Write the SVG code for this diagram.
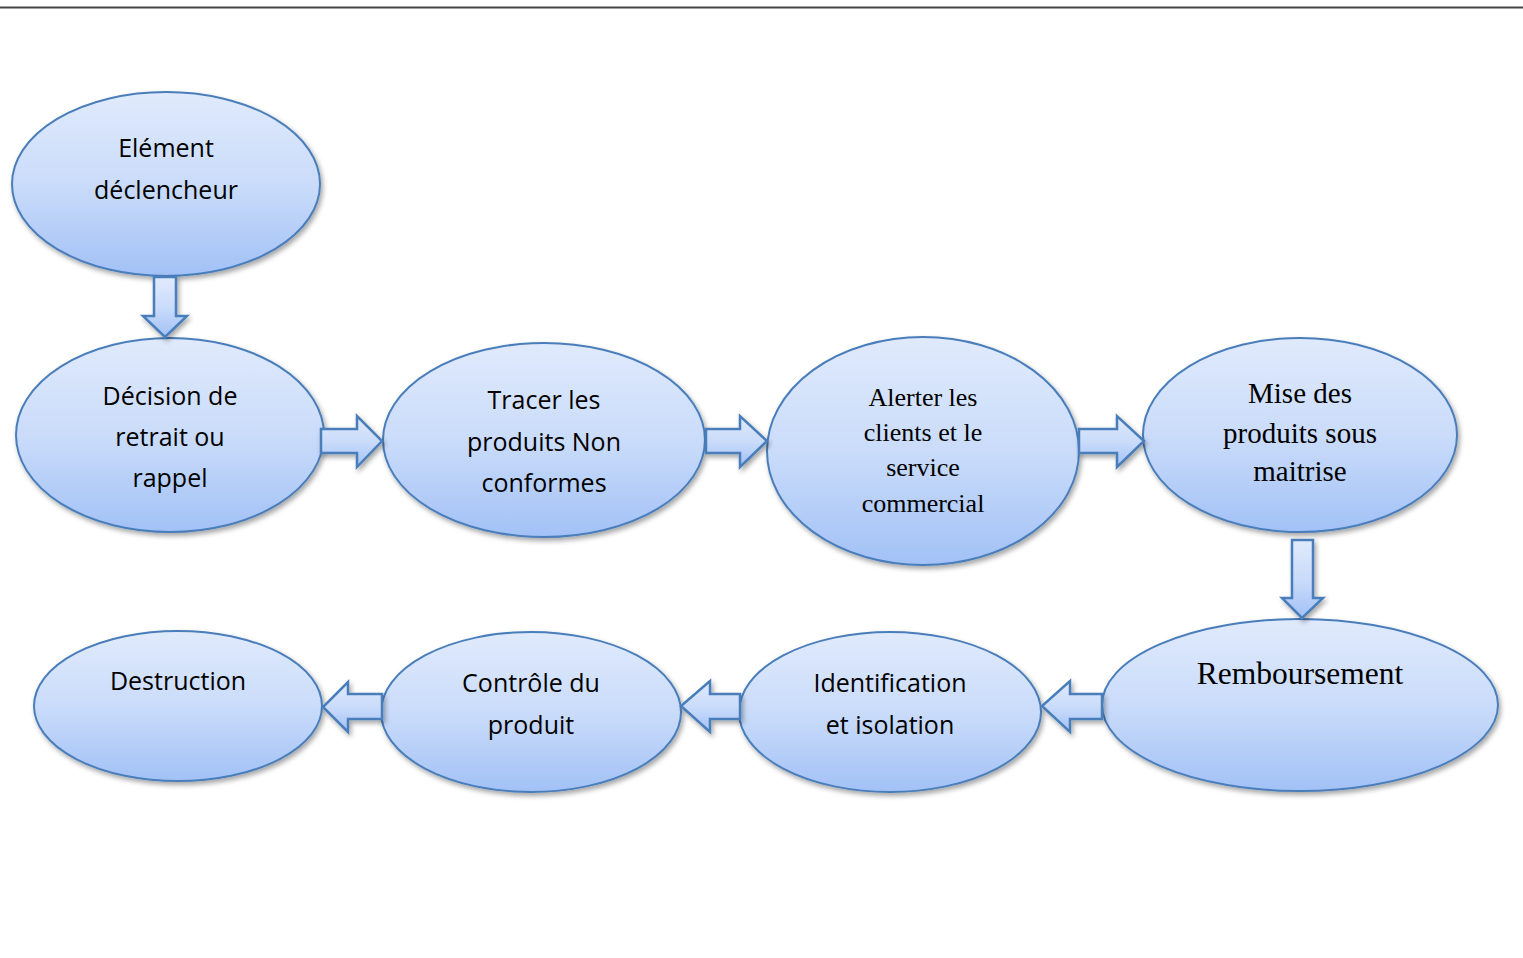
<svg xmlns="http://www.w3.org/2000/svg" width="1523" height="958" viewBox="0 0 1523 958">
<defs>
<linearGradient id="g" x1="0" y1="0" x2="0" y2="1">
<stop offset="0" stop-color="#e0eafc"/>
<stop offset="0.5" stop-color="#cadcfa"/>
<stop offset="1" stop-color="#a2c1f6"/>
</linearGradient>
<filter id="sh" x="-10%" y="-10%" width="125%" height="130%">
<feDropShadow dx="2" dy="3" stdDeviation="2.5" flood-color="#000" flood-opacity="0.35"/>
</filter>
<style>
.n{fill:url(#g);stroke:#4a7ebb;stroke-width:2;filter:url(#sh)}
.a{fill:url(#g);stroke:#4a7ebb;stroke-width:2.5;stroke-linejoin:miter;filter:url(#sh)}
.s{font-family:"Open Sans","Noto Sans",sans-serif;font-size:25px;fill:#000;text-anchor:middle}
.t{font-family:"Liberation Serif","Times New Roman",serif;fill:#000;text-anchor:middle}
</style>
</defs>
<rect width="1523" height="958" fill="#fff"/>
<line x1="0" y1="7.5" x2="1523" y2="7.5" stroke="#444" stroke-width="1.8"/>

<g id="n1"><ellipse class="n" cx="166" cy="184" rx="154" ry="92"/>
<text class="s" x="166" y="157">Elément</text><text class="s" x="166" y="199">déclencheur</text></g>

<g id="n2"><ellipse class="n" cx="170" cy="435" rx="154" ry="97"/>
<text class="s" x="170" y="405">Décision de</text><text class="s" x="170" y="446">retrait ou</text><text class="s" x="170" y="487">rappel</text></g>

<g id="n3"><ellipse class="n" cx="544" cy="440" rx="161" ry="97"/>
<text class="s" x="544" y="409">Tracer les</text><text class="s" x="544" y="451">produits Non</text><text class="s" x="544" y="492">conformes</text></g>

<g id="n4"><ellipse class="n" cx="923" cy="451" rx="156" ry="114"/>
<g class="t" font-size="26"><text x="923" y="406">Alerter les</text><text x="923" y="441">clients et le</text><text x="923" y="476">service</text><text x="923" y="512">commercial</text></g></g>

<g id="n5"><ellipse class="n" cx="1300" cy="435" rx="157" ry="97"/>
<g class="t" font-size="29"><text x="1300" y="403">Mise des</text><text x="1300" y="443">produits sous</text><text x="1300" y="481">maitrise</text></g></g>

<g id="n6"><ellipse class="n" cx="1300" cy="705" rx="198" ry="86"/>
<text class="t" font-size="31.5" x="1300" y="684">Remboursement</text></g>

<g id="n7"><ellipse class="n" cx="890" cy="712" rx="151" ry="80"/>
<text class="s" x="890" y="692">Identification</text><text class="s" x="890" y="734">et isolation</text></g>

<g id="n8"><ellipse class="n" cx="531" cy="712" rx="150" ry="80"/>
<text class="s" x="531" y="692">Contrôle du</text><text class="s" x="531" y="734">produit</text></g>

<g id="n9"><ellipse class="n" cx="178" cy="706" rx="144" ry="75"/>
<text class="s" x="178" y="690">Destruction</text></g>

<g id="connectors">
<polygon class="a" points="154,277 176,277 176,316 187,316 165,337 143,316 154,316"/>
<polygon class="a" points="321,429 357,429 357,416 382,441 357,467 357,453 321,453"/>
<polygon class="a" points="706,429 740,429 740,416 767,441 740,467 740,453 706,453"/>
<polygon class="a" points="1079,429 1117,429 1117,416 1144,441 1117,467 1117,453 1079,453"/>
<polygon class="a" points="1292,540 1313,540 1313,598 1323,598 1302,618 1282,598 1292,598"/>
<polygon class="a" points="1102,694 1070,694 1070,681 1042,706 1070,732 1070,719 1102,719"/>
<polygon class="a" points="740,694 710,694 710,681 681,706 710,732 710,719 740,719"/>
<polygon class="a" points="382,694 348,694 348,682 323,707 348,732 348,719 382,719"/>
</g>
</svg>
